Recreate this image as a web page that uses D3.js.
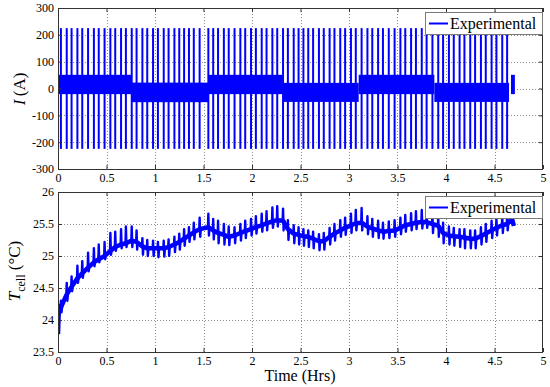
<!DOCTYPE html>
<html>
<head>
<meta charset="utf-8">
<script src="https://cdn.jsdelivr.net/npm/d3@7"></script>
<style>
  body { margin: 0; background: #fff; }
  text { font-family: "Liberation Serif", "Times New Roman", serif; fill: #000; }
</style>
</head>
<body>
<div id="chart"></div>
<script>
////////////////////////////////////////////////////////////////////////////////
// DATA
////////////////////////////////////////////////////////////////////////////////
const xTicks = [0, 0.5, 1, 1.5, 2, 2.5, 3, 3.5, 4, 4.5, 5];
const currentTicks = [-300, -200, -100, 0, 100, 200, 300];
const tempTicks = [23.5, 24, 24.5, 25, 25.5, 26];

// times (hrs) of the +/-225 A pulses
const pulseTimes = [
  0.03, 0.09, 0.14, 0.20, 0.25, 0.31, 0.37, 0.42, 0.48, 0.54, 0.59, 0.65, 0.70,
  0.76, 0.81, 0.87, 0.92, 0.98, 1.03, 1.09, 1.14, 1.20, 1.25, 1.30, 1.35, 1.40, 1.46,
  1.55, 1.60, 1.65, 1.71, 1.76, 1.82, 1.88, 1.93, 1.99, 2.04, 2.10, 2.15, 2.21, 2.26,
  2.32, 2.37, 2.43, 2.48, 2.53, 2.58, 2.63, 2.69, 2.74, 2.80, 2.85, 2.91, 2.96, 3.02, 3.07,
  3.13, 3.19, 3.24, 3.30, 3.35, 3.41, 3.47, 3.53, 3.58, 3.64, 3.69, 3.75, 3.80,
  3.86, 3.92, 3.97, 4.03, 4.08, 4.14, 4.19, 4.25, 4.30, 4.36, 4.41, 4.47, 4.52, 4.58, 4.63
];
const pulseHigh = 225;
const pulseLow = -225;

// dense switching band between pulses
const bandStart = [0, 0.76, 1.55, 2.32, 3.10, 3.88, 4.67];
const bandEnd   = [0.76, 1.55, 2.32, 3.10, 3.88, 4.65, 4.71];
const bandHigh  = [51, 22, 51, 21, 51, 21, 51];
const bandLow   = [-21, -51, -21, -50, -21, -50, -21];

// cell temperature: level between pulses, peak and dip at each pulse
const tempBody = [
  24.20, 24.40, 24.52, 24.65, 24.73, 24.82, 24.90, 24.95, 25.00, 25.08, 25.14, 25.18, 25.20,
  25.24, 25.22, 25.15, 25.12, 25.12, 25.12, 25.12, 25.14, 25.18, 25.22, 25.27, 25.32, 25.37, 25.42,
  25.45, 25.40, 25.36, 25.33, 25.30, 25.32, 25.36, 25.39, 25.42, 25.45, 25.48, 25.51, 25.54, 25.56,
  25.55, 25.42, 25.35, 25.33, 25.31, 25.30, 25.27, 25.23, 25.23, 25.30, 25.35, 25.40, 25.44, 25.48, 25.51,
  25.52, 25.46, 25.43, 25.40, 25.38, 25.39, 25.40, 25.44, 25.48, 25.50, 25.52, 25.53, 25.53,
  25.50, 25.47, 25.36, 25.32, 25.31, 25.30, 25.29, 25.27, 25.27, 25.31, 25.35, 25.40, 25.44, 25.48, 25.50
];
const tempPeak = [
  24.30, 24.58, 24.68, 24.85, 24.92, 25.05, 25.12, 25.18, 25.22, 25.36, 25.38, 25.42, 25.46,
  25.46, 25.40, 25.28, 25.25, 25.24, 25.22, 25.24, 25.26, 25.30, 25.35, 25.42, 25.45, 25.52, 25.60,
  25.66, 25.58, 25.55, 25.50, 25.46, 25.45, 25.50, 25.55, 25.58, 25.62, 25.66, 25.70, 25.76, 25.78,
  25.74, 25.56, 25.48, 25.45, 25.42, 25.40, 25.38, 25.34, 25.36, 25.44, 25.50, 25.56, 25.60, 25.66, 25.72,
  25.75, 25.62, 25.58, 25.55, 25.52, 25.54, 25.56, 25.60, 25.64, 25.67, 25.70, 25.72, 25.70,
  25.68, 25.62, 25.52, 25.46, 25.44, 25.42, 25.42, 25.40, 25.40, 25.45, 25.50, 25.55, 25.58, 25.62, 25.62
];
const tempDip = [
  24.12, 24.30, 24.45, 24.58, 24.66, 24.76, 24.84, 24.90, 24.95, 25.02, 25.08, 25.12, 25.14,
  25.14, 25.10, 25.02, 25.00, 25.00, 24.98, 24.99, 25.00, 25.06, 25.10, 25.16, 25.22, 25.26, 25.30,
  25.32, 25.26, 25.20, 25.18, 25.17, 25.20, 25.24, 25.28, 25.32, 25.35, 25.38, 25.40, 25.44, 25.46,
  25.40, 25.25, 25.20, 25.18, 25.16, 25.14, 25.12, 25.09, 25.10, 25.18, 25.24, 25.30, 25.33, 25.36, 25.40,
  25.40, 25.34, 25.30, 25.28, 25.27, 25.28, 25.30, 25.34, 25.38, 25.40, 25.42, 25.43, 25.44,
  25.36, 25.30, 25.20, 25.18, 25.16, 25.14, 25.12, 25.12, 25.12, 25.18, 25.22, 25.28, 25.32, 25.36, 25.40
];
const tempHeadTime = [0, 0.006, 0.012];
const tempHeadValue = [23.78, 24.05, 24.22];
const tempTailTime = [4.68, 4.70];
const tempTailValue = [25.58, 25.47];

////////////////////////////////////////////////////////////////////////////////
// PANEL CLASS
////////////////////////////////////////////////////////////////////////////////
const BLUE = '#0000ff';
const SERIF = '"Liberation Serif", "Times New Roman", serif';
const width = 550;
const height = 387;

const svg = d3.select('#chart').append('svg')
  .attr('width', width)
  .attr('height', height);

const x = d3.scaleLinear().domain([0, 5]).range([58, 543]);

class Panel {
  constructor(opts) {
    this.id = opts.id;
    this.top = opts.top;
    this.bottom = opts.bottom;
    this.yTicks = opts.yTicks;
    this.y = d3.scaleLinear().domain(opts.domain).range([opts.bottom, opts.top]);

    this.g = svg.append('g').classed(this.id, true);
    this.grid();
    this.plot = this.g.append('g').attr('clip-path', `url(#clip-${this.id})`);
    this.g.append('clipPath').attr('id', `clip-${this.id}`)
      .append('rect')
      .attr('x', x(0)).attr('y', this.top)
      .attr('width', x(5) - x(0)).attr('height', this.bottom - this.top);
  }

  grid() {
    const grid = this.g.append('g')
      .attr('stroke', '#8c8c8c')
      .attr('stroke-width', 1)
      .attr('stroke-dasharray', '1,2');

    grid.selectAll('.vx').data(xTicks.slice(1, -1)).enter().append('line')
      .attr('x1', d => Math.round(x(d)) + 0.5).attr('x2', d => Math.round(x(d)) + 0.5)
      .attr('y1', this.top).attr('y2', this.bottom);

    grid.selectAll('.hy').data(this.yTicks.slice(1, -1)).enter().append('line')
      .attr('y1', d => Math.round(this.y(d)) + 0.5).attr('y2', d => Math.round(this.y(d)) + 0.5)
      .attr('x1', x(0)).attr('x2', x(5));
  }

  axes() {
    const fmt = d => String(d);
    const bottomAxis = d3.axisBottom(x).tickValues(xTicks).tickFormat(fmt)
      .tickSizeInner(-4).tickSizeOuter(0).tickPadding(4);
    const topAxis = d3.axisTop(x).tickValues(xTicks).tickFormat('')
      .tickSizeInner(-4).tickSizeOuter(0);
    const leftAxis = d3.axisLeft(this.y).tickValues(this.yTicks).tickFormat(fmt)
      .tickSizeInner(-4).tickSizeOuter(0).tickPadding(4);
    const rightAxis = d3.axisRight(this.y).tickValues(this.yTicks).tickFormat('')
      .tickSizeInner(-4).tickSizeOuter(0);

    const add = (axis, tx, ty) => {
      const a = this.g.append('g')
        .attr('transform', `translate(${tx}, ${ty})`)
        .call(axis)
        .attr('font-family', SERIF)
        .attr('font-size', 12);
      a.select('.domain').remove();
      a.selectAll('line').attr('stroke', '#333');
      a.selectAll('text')
        .style('font-family', SERIF)
        .style('font-size', '12px')
        .attr('fill', '#000');
      return a;
    };
    add(bottomAxis, 0, this.bottom);
    add(topAxis, 0, this.top);
    add(leftAxis, x(0), 0);
    add(rightAxis, x(5), 0);

    // box
    this.g.append('rect')
      .attr('x', x(0) + 0.5).attr('y', this.top + 0.5)
      .attr('width', x(5) - x(0) - 1).attr('height', this.bottom - this.top)
      .attr('fill', 'none')
      .attr('stroke', '#333')
      .attr('stroke-width', 1);
  }

  legend() {
    const lg = this.g.append('g')
      .attr('transform', `translate(425, ${this.top + 4})`);
    lg.append('rect')
      .attr('x', 0.5).attr('y', 0.5)
      .attr('width', 117).attr('height', 22)
      .attr('fill', '#fff')
      .attr('stroke', '#7a7a7a');
    lg.append('line')
      .attr('x1', 4).attr('x2', 23)
      .attr('y1', 11.5).attr('y2', 11.5)
      .attr('stroke', BLUE).attr('stroke-width', 2);
    lg.append('text')
      .attr('x', 25).attr('y', 17)
      .style('font-size', '16px')
      .text('Experimental');
  }
}

////////////////////////////////////////////////////////////////////////////////
// CURRENT PANEL
////////////////////////////////////////////////////////////////////////////////
const currentPanel = new Panel({
  id: 'current', top: 8, bottom: 169,
  domain: [-300, 300], yTicks: currentTicks
});
const yI = currentPanel.y;

const bands = bandStart.map((s, i) => ({ s, e: bandEnd[i], lo: bandLow[i], hi: bandHigh[i] }));
currentPanel.plot.selectAll('rect.band').data(bands).enter().append('rect')
  .classed('band', true)
  .attr('x', d => x(d.s))
  .attr('width', d => x(d.e) - x(d.s))
  .attr('y', d => yI(d.hi))
  .attr('height', d => yI(d.lo) - yI(d.hi))
  .attr('fill', BLUE);

currentPanel.plot.selectAll('line.pulse').data(pulseTimes).enter().append('line')
  .classed('pulse', true)
  .attr('x1', d => x(d)).attr('x2', d => x(d))
  .attr('y1', yI(pulseHigh)).attr('y2', yI(pulseLow))
  .attr('stroke', BLUE)
  .attr('stroke-width', 2);

currentPanel.axes();
currentPanel.legend();

////////////////////////////////////////////////////////////////////////////////
// TEMPERATURE PANEL
////////////////////////////////////////////////////////////////////////////////
const tempPanel = new Panel({
  id: 'temp', top: 192, bottom: 352,
  domain: [23.5, 26], yTicks: tempTicks
});
const yT = tempPanel.y;

const tempPoints = tempHeadTime.map((t, i) => [t, tempHeadValue[i]]);
const bodyPoints = tempHeadTime.map((t, i) => [t, tempHeadValue[i]]);
pulseTimes.forEach((t, i) => {
  tempPoints.push([t - 0.004, tempBody[i]]);
  tempPoints.push([t, tempPeak[i]]);
  tempPoints.push([t + 0.006, tempDip[i]]);
  tempPoints.push([t + 0.012, tempBody[i]]);
  bodyPoints.push([t, tempBody[i]]);
});
tempTailTime.forEach((t, i) => {
  tempPoints.push([t, tempTailValue[i]]);
  bodyPoints.push([t, tempTailValue[i]]);
});

const line = d3.line().x(d => x(d[0])).y(d => yT(d[1]));

tempPanel.plot.append('path')
  .attr('d', line(bodyPoints))
  .attr('fill', 'none')
  .attr('stroke', BLUE)
  .attr('stroke-width', 4.5)
  .attr('stroke-linejoin', 'round');

tempPanel.plot.append('path')
  .attr('d', line(tempPoints))
  .attr('fill', 'none')
  .attr('stroke', BLUE)
  .attr('stroke-width', 2.4)
  .attr('stroke-linejoin', 'round');

tempPanel.axes();
tempPanel.legend();

////////////////////////////////////////////////////////////////////////////////
// AXIS LABELS
////////////////////////////////////////////////////////////////////////////////
const yLabelI = svg.append('text')
  .attr('transform', 'translate(25, 89) rotate(-90)')
  .attr('text-anchor', 'middle')
  .style('font-size', '17px');
yLabelI.append('tspan').style('font-style', 'italic').text('I');
yLabelI.append('tspan').text('\u2009(A)');

const yLabelT = svg.append('text')
  .attr('transform', 'translate(20, 271) rotate(-90)')
  .attr('text-anchor', 'middle')
  .style('font-size', '17px');
yLabelT.append('tspan').style('font-style', 'italic').text('T');
yLabelT.append('tspan').attr('dy', 5).style('font-size', '12px').text('cell');
yLabelT.append('tspan').attr('dy', -5).text('\u00a0(\u00b0C)');

svg.append('text')
  .attr('x', 300).attr('y', 381)
  .attr('text-anchor', 'middle')
  .style('font-size', '16px')
  .text('Time (Hrs)');
</script>
</body>
</html>
